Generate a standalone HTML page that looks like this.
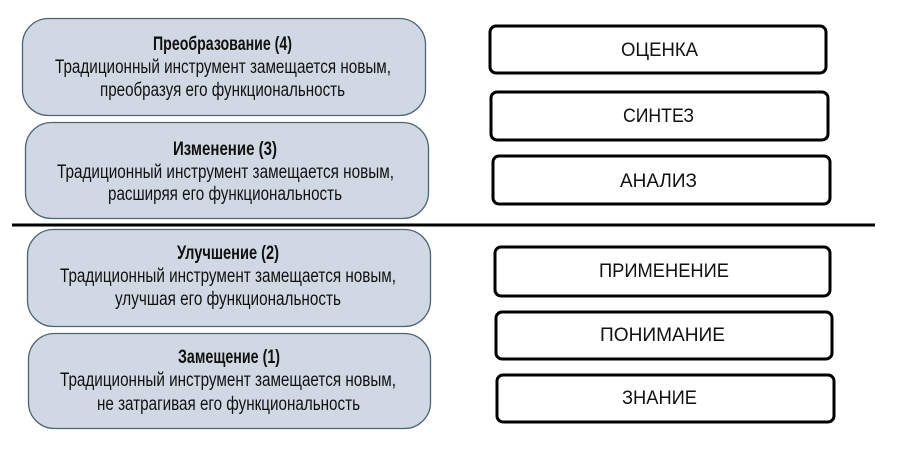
<!DOCTYPE html>
<html><head><meta charset="utf-8"><style>html,body{margin:0;padding:0;background:#fff;width:900px;height:454px;overflow:hidden}</style></head>
<body>
<svg width="900" height="454" xmlns="http://www.w3.org/2000/svg" font-family="Liberation Sans Narrow, Liberation Sans, sans-serif">
<g fill="#d0d9e3" stroke="#4f6373" stroke-width="1.3">
<rect x="22.5" y="18.5" width="403" height="97" rx="26"/>
<rect x="25.5" y="122.5" width="403" height="96" rx="26"/>
<rect x="27.5" y="229.5" width="403" height="97" rx="26"/>
<rect x="28.5" y="333.5" width="402" height="95" rx="26"/>
</g>
<line x1="12" y1="225" x2="875" y2="225" stroke="#000" stroke-width="3"/>
<g fill="#fff" stroke="#000" stroke-width="3">
<rect x="490" y="26" width="336" height="47" rx="6"/>
<rect x="491" y="92" width="337" height="48" rx="6"/>
<rect x="493" y="156" width="337" height="48" rx="6"/>
<rect x="495" y="247" width="335" height="49" rx="6"/>
<rect x="496" y="312" width="336" height="47" rx="6"/>
<rect x="497" y="375" width="337" height="47" rx="6"/>
</g>
<g fill="#111" font-size="19" text-anchor="middle" font-family="Liberation Sans, sans-serif">
<text x="659.5" y="56" textLength="77" lengthAdjust="spacingAndGlyphs">ОЦЕНКА</text>
<text x="658.5" y="122" textLength="71" lengthAdjust="spacingAndGlyphs">СИНТЕЗ</text>
<text x="658.5" y="187" textLength="77" lengthAdjust="spacingAndGlyphs">АНАЛИЗ</text>
<text x="664" y="277" textLength="130" lengthAdjust="spacingAndGlyphs">ПРИМЕНЕНИЕ</text>
<text x="662.5" y="341" textLength="125" lengthAdjust="spacingAndGlyphs">ПОНИМАНИЕ</text>
<text x="659.5" y="404" textLength="75" lengthAdjust="spacingAndGlyphs">ЗНАНИЕ</text>
</g>
<g fill="#111" font-size="19" text-anchor="middle">
<text x="222.5" y="50" font-weight="bold" textLength="139" lengthAdjust="spacingAndGlyphs">Преобразование (4)</text>
<text x="223" y="73" textLength="336" lengthAdjust="spacingAndGlyphs">Традиционный инструмент замещается новым,</text>
<text x="222.5" y="96" textLength="245" lengthAdjust="spacingAndGlyphs">преобразуя его функциональность</text>
<text x="225" y="155" font-weight="bold" textLength="104" lengthAdjust="spacingAndGlyphs">Изменение (3)</text>
<text x="225.5" y="178" textLength="337" lengthAdjust="spacingAndGlyphs">Традиционный инструмент замещается новым,</text>
<text x="225" y="200" textLength="234" lengthAdjust="spacingAndGlyphs">расширяя его функциональность</text>
<text x="228" y="259" font-weight="bold" textLength="102" lengthAdjust="spacingAndGlyphs">Улучшение (2)</text>
<text x="228" y="282" textLength="336" lengthAdjust="spacingAndGlyphs">Традиционный инструмент замещается новым,</text>
<text x="228" y="305" textLength="226" lengthAdjust="spacingAndGlyphs">улучшая его функциональность</text>
<text x="229" y="363" font-weight="bold" textLength="102" lengthAdjust="spacingAndGlyphs">Замещение (1)</text>
<text x="228" y="386" textLength="336" lengthAdjust="spacingAndGlyphs">Традиционный инструмент замещается новым,</text>
<text x="228.5" y="410" textLength="263" lengthAdjust="spacingAndGlyphs">не затрагивая его функциональность</text>
</g>
</svg>
</body></html>
